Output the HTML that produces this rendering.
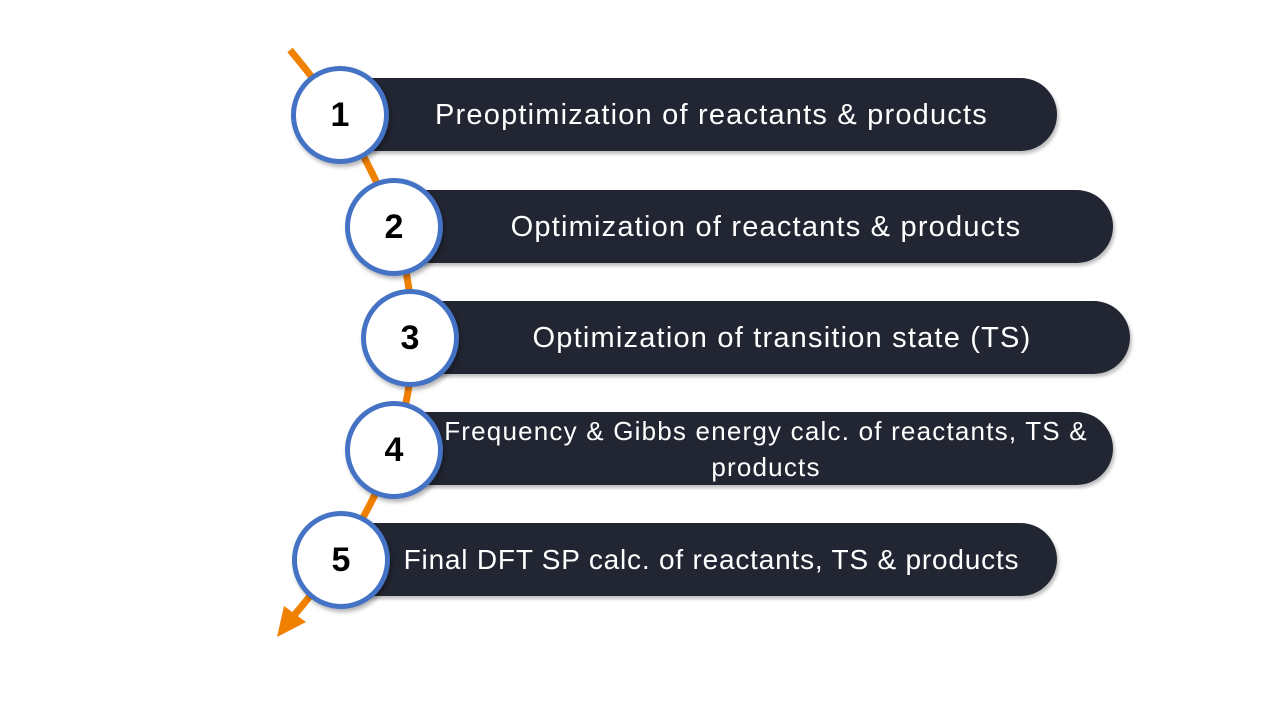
<!DOCTYPE html>
<html><head><meta charset="utf-8"><style>
body{margin:0;width:1280px;height:720px;background:#fff;position:relative;overflow:hidden;font-family:"Liberation Sans",sans-serif}
.bar{position:absolute;height:73px;background:#222633;border-radius:0 37px 37px 0;box-shadow:2px 3px 3px rgba(0,0,0,.25);color:#fff;font-size:29px;letter-spacing:1.2px;display:flex;align-items:center;justify-content:center;text-align:center;line-height:36px;box-sizing:border-box;white-space:nowrap}
.c{position:absolute;width:88px;height:88px;border:5px solid #4472C4;border-radius:50%;background:#fff;font-weight:bold;font-size:34px;display:flex;align-items:center;justify-content:center;box-shadow:2px 3px 4px rgba(0,0,0,.3)}
svg{position:absolute;left:0;top:0}
</style></head><body>
<svg width="1280" height="720"><path d="M290,50 Q535,340 290,620" stroke="#F08000" stroke-width="7" fill="none"/>
<polygon points="277,637 284,606 306,622" fill="#F08000"/></svg>
<div class="bar" style="left:340px;top:78px;width:717px;padding-left:26px">Preoptimization of reactants &amp; products</div>
<div class="bar" style="left:395px;top:190px;width:718px;padding-left:24px">Optimization of reactants &amp; products</div>
<div class="bar" style="left:410px;top:301px;width:720px;padding-left:24px">Optimization of transition state (TS)</div>
<div class="bar" style="left:395px;top:412px;width:718px;padding-left:24px;font-size:26px">Frequency &amp; Gibbs energy calc. of reactants, TS &amp;<br>products</div>
<div class="bar" style="left:340px;top:523px;width:717px;padding-left:26px;font-size:28px;letter-spacing:0.8px">Final DFT SP calc. of reactants, TS &amp; products</div>
<div class="c" style="left:291px;top:66px">1</div>
<div class="c" style="left:345px;top:178px">2</div>
<div class="c" style="left:361px;top:289px">3</div>
<div class="c" style="left:345px;top:401px">4</div>
<div class="c" style="left:292px;top:511px">5</div>
</body></html>
